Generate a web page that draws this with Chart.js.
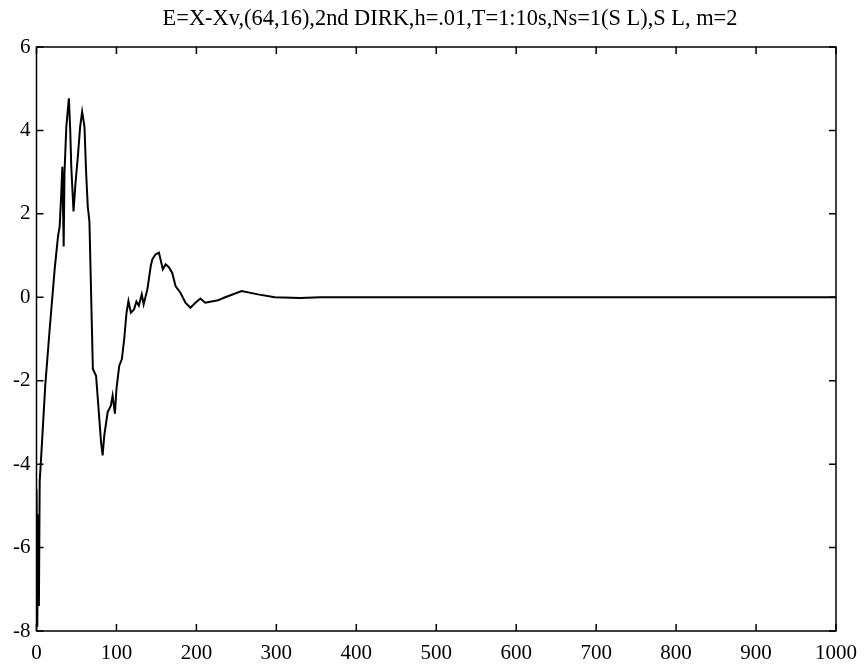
<!DOCTYPE html>
<html>
<head>
<meta charset="utf-8">
<script src="https://cdn.jsdelivr.net/npm/chart.js@4"></script>
<style>
  html, body { margin: 0; padding: 0; background: #fff; }
  #wrap { width: 867px; height: 670px; }
</style>
</head>
<body>
<div id="wrap"><canvas id="c" width="867" height="670"></canvas></div>
<script>
// Error trace E = X - Xv over the step index
const titleText = 'E=X-Xv,(64,16),2nd DIRK,h=.01,T=1:10s,Ns=1(S L),S L, m=2';

const stepIndex = [0, 1, 2, 3, 4, 5, 11, 16.5, 22.7, 26.9, 29, 31, 32.3, 34, 35, 37.3, 40.5, 42.2, 43.5, 46.3,
  48.8, 51.7, 54.6, 57.1, 60, 62.1, 64.1, 66.2, 70.5, 74.5, 80.7, 82.7, 84.8, 89, 93, 95.2, 98.1, 100,
  103.5, 106.8, 109.7, 112.6, 115, 118, 122, 125, 128, 131.7, 134, 138.7, 142.9, 144.9, 149, 153.2, 158,
  161.5, 165.6, 169.7, 173.9, 180, 186.3, 192.5, 198.8, 205, 211, 219, 227, 236, 256.6, 277, 298, 330,
  355, 400, 500, 600, 700, 800, 900, 1000];

const errorValue = [-4.6, -7.9, -5.2, -7.4, -4.4, -4.1, -2.1, -0.76, 0.67, 1.46, 1.7, 2.5, 3.13, 1.22, 2.98,
  4.09, 4.77, 4.0, 3.13, 2.06, 2.74, 3.37, 4.09, 4.45, 4.09, 2.98, 2.18, 1.82, -1.72, -1.88, -3.46, -3.79,
  -3.31, -2.75, -2.6, -2.36, -2.79, -2.2, -1.64, -1.48, -1.0, -0.37, -0.09, -0.37, -0.29, -0.1, -0.2, 0.07,
  -0.17, 0.19, 0.75, 0.91, 1.03, 1.07, 0.67, 0.79, 0.72, 0.59, 0.27, 0.11, -0.13, -0.25, -0.13, -0.03,
  -0.13, -0.1, -0.07, 0.0, 0.15, 0.07, 0.0, -0.02, 0.0, 0.0, 0.0, 0.0, 0.0, 0.0, 0.0, 0.0];

const xTickValues = [0, 100, 200, 300, 400, 500, 600, 700, 800, 900, 1000];
const yTickValues = [-8, -6, -4, -2, 0, 2, 4, 6];

const serif = "'Liberation Serif', 'DejaVu Serif', serif";

// Box frame, inward ticks on all four sides, and the title
const framePlugin = {
  id: 'frame',
  afterDraw(chart) {
    const { ctx, chartArea: a, scales } = chart;
    const tickLen = 7;
    ctx.save();
    ctx.strokeStyle = '#000';
    ctx.lineWidth = 1.5;
    ctx.strokeRect(a.left, a.top, a.right - a.left, a.bottom - a.top);
    ctx.beginPath();
    xTickValues.forEach(v => {
      const px = scales.x.getPixelForValue(v);
      ctx.moveTo(px, a.bottom); ctx.lineTo(px, a.bottom - tickLen);
      ctx.moveTo(px, a.top); ctx.lineTo(px, a.top + tickLen);
    });
    yTickValues.forEach(v => {
      const py = scales.y.getPixelForValue(v);
      ctx.moveTo(a.left, py); ctx.lineTo(a.left + tickLen, py);
      ctx.moveTo(a.right, py); ctx.lineTo(a.right - tickLen, py);
    });
    ctx.stroke();
    ctx.fillStyle = '#000';
    ctx.font = '22.4px ' + serif;
    ctx.textAlign = 'center';
    ctx.textBaseline = 'alphabetic';
    ctx.fillText(titleText, 450, 25);
    ctx.restore();
  }
};

new Chart(document.getElementById('c'), {
  type: 'line',
  data: {
    datasets: [{
      data: stepIndex.map((x, i) => ({ x, y: errorValue[i] })),
      borderColor: '#000',
      borderWidth: 2,
      pointRadius: 0,
      tension: 0,
      fill: false
    }]
  },
  options: {
    responsive: false,
    animation: false,
    devicePixelRatio: 1,
    layout: { padding: { top: 47, right: 31, left: 0, bottom: 0 } },
    plugins: { legend: { display: false }, tooltip: { enabled: false }, title: { display: false } },
    scales: {
      x: {
        type: 'linear',
        min: 0, max: 1000,
        afterFit(s) { s.height = 39; },
        afterBuildTicks(s) { s.ticks = xTickValues.map(v => ({ value: v })); },
        grid: { display: false, drawTicks: false },
        border: { display: false },
        ticks: { color: '#000', padding: 10, maxRotation: 0, callback: v => String(v),
                 font: { family: serif, size: 21 } }
      },
      y: {
        type: 'linear',
        min: -8, max: 6,
        afterFit(s) { s.width = 36.5; },
        afterBuildTicks(s) { s.ticks = yTickValues.map(v => ({ value: v })); },
        grid: { display: false, drawTicks: false },
        border: { display: false },
        ticks: { color: '#000', padding: 6, callback: v => String(v),
                 font: { family: serif, size: 21 } }
      }
    }
  },
  plugins: [framePlugin]
});
</script>
</body>
</html>
